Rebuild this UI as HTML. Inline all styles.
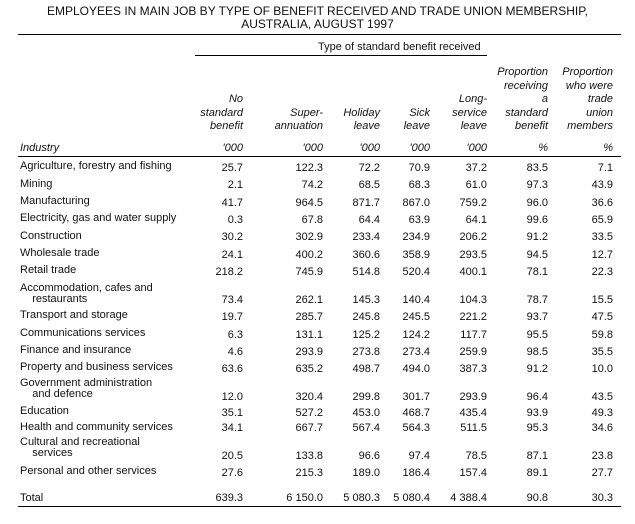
<!DOCTYPE html>
<html><head><meta charset="utf-8"><style>
body{margin:0;background:#fff;width:635px;height:524px;position:relative;font-family:"Liberation Sans",sans-serif;font-size:11px;color:#111;overflow:hidden}
.t{position:absolute;line-height:12px;white-space:nowrap}
.r{text-align:right}
.i{font-style:italic}
.h{position:absolute;background:#000;height:1px}
.hd{line-height:13.5px}
</style></head><body>
<div class="t" style="left:0;width:635px;text-align:center;top:5px;font-size:12px;line-height:13px">EMPLOYEES IN MAIN JOB BY TYPE OF BENEFIT RECEIVED AND TRADE UNION MEMBERSHIP,<br>AUSTRALIA, AUGUST 1997</div>
<div class="h" style="left:18px;width:603px;top:34px"></div>
<div class="t" style="left:318px;top:41px">Type of standard benefit received</div>
<div class="h" style="left:195px;width:292px;top:55px"></div>
<div class="t r i hd" style="right:392px;top:93px">No<br>standard<br>benefit</div>
<div class="t r i hd" style="right:312px;top:106.5px">Super-<br>annuation</div>
<div class="t r i hd" style="right:255px;top:106.5px">Holiday<br>leave</div>
<div class="t r i hd" style="right:205px;top:106.5px">Sick<br>leave</div>
<div class="t r i hd" style="right:148px;top:93px">Long-<br>service<br>leave</div>
<div class="t r i hd" style="right:87px;top:66px">Proportion<br>receiving<br>a<br>standard<br>benefit</div>
<div class="t r i hd" style="right:22px;top:66px">Proportion<br>who were<br>trade<br>union<br>members</div>
<div class="t i" style="left:20px;top:142px">Industry</div>
<div class="t r i" style="right:392px;top:142px">'000</div>
<div class="t r i" style="right:312px;top:142px">'000</div>
<div class="t r i" style="right:255px;top:142px">'000</div>
<div class="t r i" style="right:205px;top:142px">'000</div>
<div class="t r i" style="right:148px;top:142px">'000</div>
<div class="t r i" style="right:87px;top:142px">%</div>
<div class="t r i" style="right:22px;top:142px">%</div>
<div class="h" style="left:18px;width:603px;top:156px"></div>
<div class="h" style="left:18px;width:603px;top:506px"></div>
<div class="t" style="left:20px;top:160px">Agriculture, forestry and fishing</div>
<div class="t" style="left:20px;top:178px">Mining</div>
<div class="t" style="left:20px;top:195px">Manufacturing</div>
<div class="t" style="left:20px;top:212px">Electricity, gas and water supply</div>
<div class="t" style="left:20px;top:230px">Construction</div>
<div class="t" style="left:20px;top:247px">Wholesale trade</div>
<div class="t" style="left:20px;top:264px">Retail trade</div>
<div class="t" style="left:20px;top:283px;line-height:11px">Accommodation, cafes and<br>&nbsp;&nbsp;&nbsp;&nbsp;restaurants</div>
<div class="t" style="left:20px;top:309px">Transport and storage</div>
<div class="t" style="left:20px;top:327px">Communications services</div>
<div class="t" style="left:20px;top:344px">Finance and insurance</div>
<div class="t" style="left:20px;top:361px">Property and business services</div>
<div class="t" style="left:20px;top:378px;line-height:11px">Government administration<br>&nbsp;&nbsp;&nbsp;&nbsp;and defence</div>
<div class="t" style="left:20px;top:405px">Education</div>
<div class="t" style="left:20px;top:421px">Health and community services</div>
<div class="t" style="left:20px;top:437px;line-height:11px">Cultural and recreational<br>&nbsp;&nbsp;&nbsp;&nbsp;services</div>
<div class="t" style="left:20px;top:465px">Personal and other services</div>
<div class="t" style="left:20px;top:492px">Total</div>

<div class="t r" style="right:392px;top:160px;line-height:17.33px">25.7<br>2.1<br>41.7<br>0.3<br>30.2<br>24.1<br>218.2</div>
<div class="t r" style="right:312px;top:160px;line-height:17.33px">122.3<br>74.2<br>964.5<br>67.8<br>302.9<br>400.2<br>745.9</div>
<div class="t r" style="right:255px;top:160px;line-height:17.33px">72.2<br>68.5<br>871.7<br>64.4<br>233.4<br>360.6<br>514.8</div>
<div class="t r" style="right:205px;top:160px;line-height:17.33px">70.9<br>68.3<br>867.0<br>63.9<br>234.9<br>358.9<br>520.4</div>
<div class="t r" style="right:148px;top:160px;line-height:17.33px">37.2<br>61.0<br>759.2<br>64.1<br>206.2<br>293.5<br>400.1</div>
<div class="t r" style="right:87px;top:160px;line-height:17.33px">83.5<br>97.3<br>96.0<br>99.6<br>91.2<br>94.5<br>78.1</div>
<div class="t r" style="right:22px;top:160px;line-height:17.33px">7.1<br>43.9<br>36.6<br>65.9<br>33.5<br>12.7<br>22.3</div>

<div class="t r" style="right:392px;top:292px;line-height:17.25px">73.4<br>19.7<br>6.3<br>4.6<br>63.6</div>
<div class="t r" style="right:312px;top:292px;line-height:17.25px">262.1<br>285.7<br>131.1<br>293.9<br>635.2</div>
<div class="t r" style="right:255px;top:292px;line-height:17.25px">145.3<br>245.8<br>125.2<br>273.8<br>498.7</div>
<div class="t r" style="right:205px;top:292px;line-height:17.25px">140.4<br>245.5<br>124.2<br>273.4<br>494.0</div>
<div class="t r" style="right:148px;top:292px;line-height:17.25px">104.3<br>221.2<br>117.7<br>259.9<br>387.3</div>
<div class="t r" style="right:87px;top:292px;line-height:17.25px">78.7<br>93.7<br>95.5<br>98.5<br>91.2</div>
<div class="t r" style="right:22px;top:292px;line-height:17.25px">15.5<br>47.5<br>59.8<br>35.5<br>10.0</div>

<div class="t r" style="right:392px;top:390px;line-height:15.5px">12.0<br>35.1<br>34.1</div>
<div class="t r" style="right:312px;top:390px;line-height:15.5px">320.4<br>527.2<br>667.7</div>
<div class="t r" style="right:255px;top:390px;line-height:15.5px">299.8<br>453.0<br>567.4</div>
<div class="t r" style="right:205px;top:390px;line-height:15.5px">301.7<br>468.7<br>564.3</div>
<div class="t r" style="right:148px;top:390px;line-height:15.5px">293.9<br>435.4<br>511.5</div>
<div class="t r" style="right:87px;top:390px;line-height:15.5px">96.4<br>93.9<br>95.3</div>
<div class="t r" style="right:22px;top:390px;line-height:15.5px">43.5<br>49.3<br>34.6</div>

<div class="t r" style="right:392px;top:447.5px;line-height:17px">20.5<br>27.6</div>
<div class="t r" style="right:312px;top:447.5px;line-height:17px">133.8<br>215.3</div>
<div class="t r" style="right:255px;top:447.5px;line-height:17px">96.6<br>189.0</div>
<div class="t r" style="right:205px;top:447.5px;line-height:17px">97.4<br>186.4</div>
<div class="t r" style="right:148px;top:447.5px;line-height:17px">78.5<br>157.4</div>
<div class="t r" style="right:87px;top:447.5px;line-height:17px">87.1<br>89.1</div>
<div class="t r" style="right:22px;top:447.5px;line-height:17px">23.8<br>27.7</div>

<div class="t r" style="right:392px;top:492px">639.3</div>
<div class="t r" style="right:312px;top:492px">6 150.0</div>
<div class="t r" style="right:255px;top:492px">5 080.3</div>
<div class="t r" style="right:205px;top:492px">5 080.4</div>
<div class="t r" style="right:148px;top:492px">4 388.4</div>
<div class="t r" style="right:87px;top:492px">90.8</div>
<div class="t r" style="right:22px;top:492px">30.3</div>
</body></html>
